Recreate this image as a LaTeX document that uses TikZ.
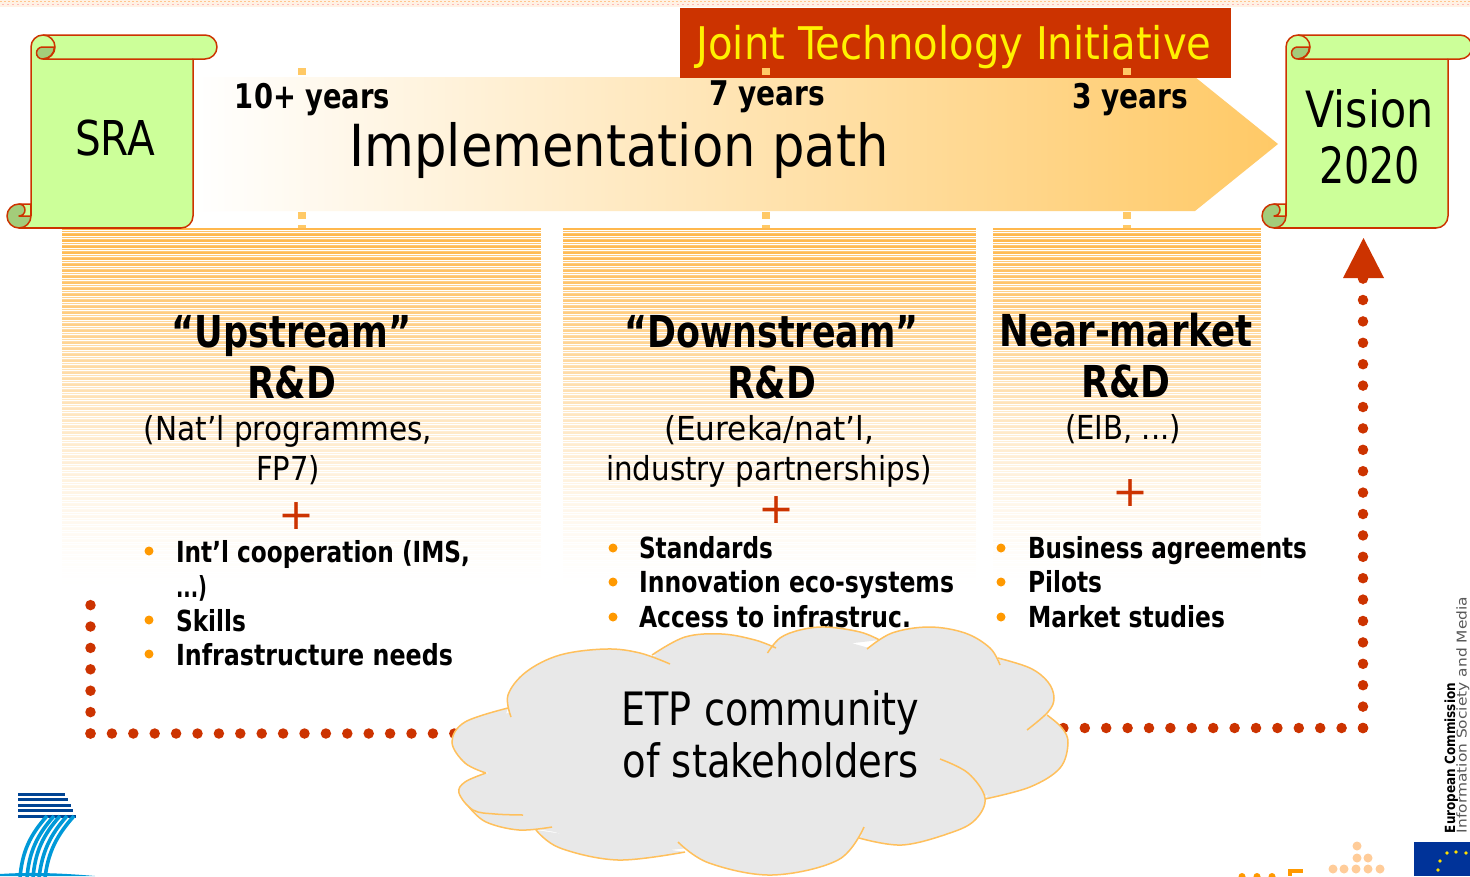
\documentclass[tikz,border=0pt]{standalone}
\usepackage{fontspec}
\usepackage{graphicx}
\setmainfont{DejaVu Sans}
\definecolor{rust}{HTML}{CC3300}
\definecolor{scrollfill}{HTML}{CCFF99}
\definecolor{scrolldark}{HTML}{A3CC7A}
\definecolor{tan}{HTML}{FFC966}
\definecolor{stripe}{HTML}{FFB84D}
\definecolor{bulletc}{HTML}{FF9900}
\definecolor{cloudline}{HTML}{FFC05C}
\definecolor{cloudfill}{HTML}{E8E8E8}
\definecolor{navy}{HTML}{004494}
\definecolor{skyb}{HTML}{0099D8}
\definecolor{euflag}{HTML}{003399}
\definecolor{eustar}{HTML}{FFE000}
\definecolor{peach}{HTML}{FFCC99}
\newcommand\fw[2]{\resizebox{#1pt}{\height}{#2}}
\newcommand\drawscroll{%
  \filldraw[scrollline,fill=scrollfill] (43,35) -- (205,35) arc[start angle=-90,end angle=90,radius=12] -- (193,59) -- (193,216) arc[start angle=0,end angle=90,radius=12] -- (19,228) -- (19,204) -- (31,204) -- (31,47) arc[start angle=180,end angle=270,radius=12] -- cycle;
  \filldraw[scrollline,fill=scrolldark] (54.5,47) arc[start angle=0,end angle=90,radius=12] -- (42.5,59) arc[start angle=90,end angle=270,radius=6] -- cycle;
  \draw[scrollline] (43,35) arc[start angle=-90,end angle=90,radius=12] -- (193,59);
  \filldraw[scrollline,fill=scrolldark] (31,216) arc[start angle=0,end angle=90,radius=12] arc[start angle=90,end angle=270,radius=12] arc[start angle=-90,end angle=0,radius=6] arc[start angle=0,end angle=90,radius=6] -- cycle;
  \draw[scrollline] (19,228) -- (181,228);
  \draw[scrollline] (31,204) -- (31,216);
}
\tikzset{
  scrollline/.style={draw=rust,line width=1.5pt,line join=round},
  txt/.style={inner sep=0pt,outer sep=0pt,anchor=base,text=black},
  txl/.style={inner sep=0pt,outer sep=0pt,anchor=base west,text=black},
  scrolltext/.style={txt,font=\fontsize{50}{56}\selectfont,align=center},
  yearstext/.style={txt,font=\fontsize{34}{34}\selectfont\bfseries},
  headtext/.style={txt,font=\fontsize{44}{51}\selectfont\bfseries,align=center},
  subtext/.style={txt,font=\fontsize{33}{39.5}\selectfont,align=center},
  itemtext/.style={txl,font=\fontsize{29}{34.5}\selectfont\bfseries,align=left},
  plustext/.style={inner sep=0pt,outer sep=0pt,text=rust,font=\fontsize{43}{43}\selectfont},
  bulletdot/.style={fill=bulletc,circle,inner sep=0pt,minimum size=9pt},
  dotline/.style={draw=rust,line width=10.5pt,line cap=round,dash pattern=on 0pt off 21.4pt},
  tick/.style={fill=tan},
  cloudstroke/.style={draw=cloudline,line width=1.5pt},
  sevenbar/.style={draw=navy,line width=3pt},
  sevencurve/.style={draw=skyb,line width=3.6pt},
  dotlogo/.style={fill=peach,circle,inner sep=0pt,minimum size=9pt},
}
\newcommand\lobe[1]{%
  \fill[cloudfill] plot[smooth,tension=.6] coordinates {#1} -- cycle;
}
\newcommand\lobeline[1]{%
  \draw[cloudstroke] plot[smooth,tension=.6] coordinates {#1};
}
\begin{document}
\begin{tikzpicture}[x=1pt,y=-1pt]
\useasboundingbox (0,0) rectangle (1470,876);
\clip (0,0) rectangle (1470,876);
% top speckled band
\fill[white] (0,0) rectangle (1470,876);
\fill[orange!10!white] (0,0) rectangle (1470,7);
\draw[orange!45!white,line width=1.5pt,dash pattern=on 1.5pt off 2.5pt] (0,1.5) -- (1470,1.5);
\draw[red!28!white,line width=1.5pt,dash pattern=on 1.5pt off 3.5pt] (2,4.5) -- (1470,4.5);
% implementation arrow
\shade[left color=white,right color=tan,shading angle=90,left color=white] (193,77) -- (1195,77) -- (1278,144) -- (1195,211) -- (193,211) -- cycle;
% joint technology box
\fill[rust] (680,8) rectangle (1231,78);
\node[inner sep=0pt,anchor=base,text=yellow,font=\fontsize{45}{45}\selectfont] (jti) at (954,59) {\fw{515}{Joint Technology Initiative}};
% ticks
\foreach \tx in {302,766,1127}{
  \fill[tick] (\tx-4,68) rectangle (\tx+4,75);
  \fill[tick] (\tx-4,212) rectangle (\tx+4,219);
  \fill[tick] (\tx-4,225) rectangle (\tx+4,228);
}
% fading stripes
\foreach \yy in {229,231,...,590}{
  \pgfmathsetmacro{\pct}{max(0,(mod(\yy,6)==1?105:85)*(1-(\yy-229)/361)^1.5)}
  \pgfmathsetmacro{\lw}{mod(\yy,6)==1?1.3:1.0}
  \pgfmathsetmacro{\pcc}{min(100,\pct)}
  \draw[stripe!\pcc!white,line width=\lw pt] (62,\yy) -- (541,\yy);
  \draw[stripe!\pcc!white,line width=\lw pt] (563,\yy) -- (976,\yy);
  \draw[stripe!\pcc!white,line width=\lw pt] (993,\yy) -- (1261,\yy);
}
% scrolls
\begin{scope}
\drawscroll
\end{scope}
\begin{scope}[xshift=1255pt]
\drawscroll
\end{scope}
\node[txt,font=\fontsize{48}{48}\selectfont] (sra) at (115,155) {\fw{80}{SRA}};
\node[scrolltext] (vision) at (1369.5,183) {\fw{128}{Vision}\\\fw{101}{2020}};
% years and title
\node[yearstext] (y10) at (312.5,108) {\fw{155}{10+ years}};
\node[yearstext] (y7) at (767,105) {\fw{116}{7 years}};
\node[yearstext] (y3) at (1130,108) {\fw{116}{3 years}};
\node[txt,font=\fontsize{58}{58}\selectfont] (impl) at (619,166) {\fw{539}{Implementation path}};
% headings
\node[headtext] (up) at (291.5,398) {\fw{240}{“Upstream”}\\\fw{89}{R\&D}};
\node[headtext] (down) at (771.5,398) {\fw{294}{“Downstream”}\\\fw{89}{R\&D}};
\node[headtext] (near) at (1126,397.5) {\fw{253}{Near-market}\\\fw{89}{R\&D}};
\node[subtext] (upsub) at (288,480) {\fw{288}{(Nat’l programmes,}\\\fw{64}{FP7)}};
\node[subtext] (downsub) at (769,480) {\fw{210}{(Eureka/nat’l,}\\\fw{326}{industry partnerships)}};
\node[subtext] (nearsub) at (1123,439.5) {\fw{116}{(EIB, ...)}};
\node[plustext] (p1) at (296.5,516) {+};
\node[plustext] (p2) at (776.5,510) {+};
\node[plustext] (p3) at (1130.5,493) {+};
% bullets
\foreach \bx/\by in {149/551,149/620,149/654,613/548,613/582,613/617,1001/548,1001/582,1001/617}{
  \node[bulletdot] (b\bx-\by) at (\bx,\by) {};
}
\node[itemtext] (i1) at (176,597) {\fw{294}{Int’l cooperation (IMS,}\\\fw{31}{...)}};
\node[itemtext] (i2) at (176,631) {\fw{70}{Skills}};
\node[itemtext] (i3) at (176,665) {\fw{277}{Infrastructure needs}};
\node[itemtext] (i4) at (639,558) {\fw{134}{Standards}};
\node[itemtext] (i5) at (639,592) {\fw{315}{Innovation eco-systems}};
\node[itemtext] (i6) at (639,627) {\fw{272}{Access to infrastruc.}};
\node[itemtext] (i7) at (1028,558) {\fw{279}{Business agreements}};
\node[itemtext] (i8) at (1028,592) {\fw{74}{Pilots}};
\node[itemtext] (i9) at (1028,627) {\fw{197}{Market studies}};
% dotted connectors
\coordinate (ls) at (90.5,605);
\coordinate (lc) at (90.5,733.5);
\coordinate (le) at (600,733.5);
\coordinate (rc) at (1363,728);
\coordinate (rs) at (900,728);
\coordinate (ra) at (1363,278.6);
\draw[dotline] (lc) -- (ls);
\draw[dotline] (lc) -- (le);
\draw[dotline] (rc) -- (rs);
\draw[dotline] (rc) -- (ra);
\fill[rust] (1363.5,238) -- (1384,278) -- (1343,278) -- cycle;
% cloud
\fill[cloudfill] (511,712) -- (560,660) -- (606,654) -- (654,656) -- (670,650) -- (722,640) -- (770,652) -- (780,645) -- (826,632) -- (868,650) -- (880,641) -- (929,632) -- (995,660) -- (1045,690) -- (1046,716) -- (1060,745) -- (1030,780) -- (985,796) -- (950,828) -- (902,840) -- (862,835) -- (772,868) -- (690,848) -- (618,855) -- (555,832) -- (519,826) -- (478,808) -- (465,793) -- (488,773) -- (458,745) -- (470,725) -- cycle;
\fill[cloudfill] (700,642) -- (771,648) -- (826,636) -- (869,648) -- (930,636) -- (930,700) -- (700,700) -- cycle;
\def\La{(511,717) (508,695) (526,672) (560,655) (606,649) (640,653) (670,664)}
\def\Lb{(652,655) (685,637) (722,634) (755,640) (776,648)}
\def\Lc{(767.5,653) (780,638) (800,630) (826,627) (860,632) (879.5,640)}
\def\Ld{(867,649) (892,633) (929,627) (965,633) (990,648) (1000,665)}
\def\Le{(998,658) (1030,668) (1048,682) (1054,698) (1048,712) (1027,730)}
\def\Lf{(1047,715) (1062,728) (1068,743) (1060,768) (1030,787) (985,799)}
\def\Lg{(940,759) (968,773) (985,798) (975,820) (950,833) (902,845) (859,838)}
\def\Lh{(864,827) (838,860) (772,875) (709,863) (678,842)}
\def\Li{(685,852) (618,860) (560,848) (536,830)}
\def\Lj{(552,827) (519,830) (486,822) (469,807)}
\def\Lk{(523,815) (495,814) (473,810) (459,793) (465,782) (486,773)}
\def\Ll{(486,773) (465,763) (452,742) (465,722) (508,708)}
\foreach \L in {\La,\Lb,\Lc,\Ld,\Le,\Lf,\Lg,\Lh,\Li,\Lj,\Lk,\Ll}{
  \expandafter\lobe\expandafter{\L}
}
\foreach \L in {\La,\Lb,\Lc,\Ld,\Le,\Lf,\Lg,\Lh,\Li,\Lj,\Lk,\Ll}{
  \expandafter\lobeline\expandafter{\L}
}
\node[txt,font=\fontsize{46}{52}\selectfont,align=center] (etp) at (770.5,777) {\fw{298}{ETP community}\\\fw{296}{of stakeholders}};
% FP7 logo
\foreach \i/\xe in {0/65,1/68,2/70.5,3/73,4/76}{
  \draw[sevenbar] (18,794+\i*5.6) -- (\xe,794+\i*5.6);
}
\draw[sevencurve] (47,816) .. controls (30,835) and (22,852) .. (20,878);
\draw[sevencurve] (54,816) .. controls (37,835) and (29,852) .. (27,878);
\draw[sevencurve] (60,816) .. controls (43,835) and (35,852) .. (33,878);
\draw[sevencurve] (67,816) .. controls (50,835) and (42,852) .. (39,878);
\draw[sevencurve] (74,816) .. controls (57,835) and (48,852) .. (45,878);
\fill[skyb] (0,876) -- (0,874) .. controls (30,872) and (60,873) .. (95,876) -- cycle;
% bottom right logos
\foreach \i/\cx/\cy in {1/1357/846,2/1357/858,3/1368/858,4/1333/869,5/1344/869,6/1356/869,7/1368/869,8/1380/869}{
  \node[dotlogo] (d\i) at (\cx,\cy) {};
}
\foreach \cx in {1242,1257,1272}{\fill[bulletc] (\cx,876.5) circle[radius=3.5];}
\fill[bulletc] (1288,869) rectangle (1303,873);
\fill[bulletc] (1288,869) rectangle (1292,876);
\fill[euflag] (1414,841.5) rectangle (1470,876);
\foreach \cx/\cy in {1447/853,1456/852,1466/853,1440/861,1438/870}{\fill[eustar] (\cx,\cy) circle[radius=1.8];}
\node[txl,rotate=90,font=\fontsize{14}{14}\selectfont\bfseries] (ec) at (1455,833) {\fw{150}{European Commission}};
\node[txl,rotate=90,font=\fontsize{13.5}{13.5}\selectfont,text=black!65] (isoc) at (1466.5,833) {\fw{236}{Information Society and Media}};
\end{tikzpicture}
\end{document}
